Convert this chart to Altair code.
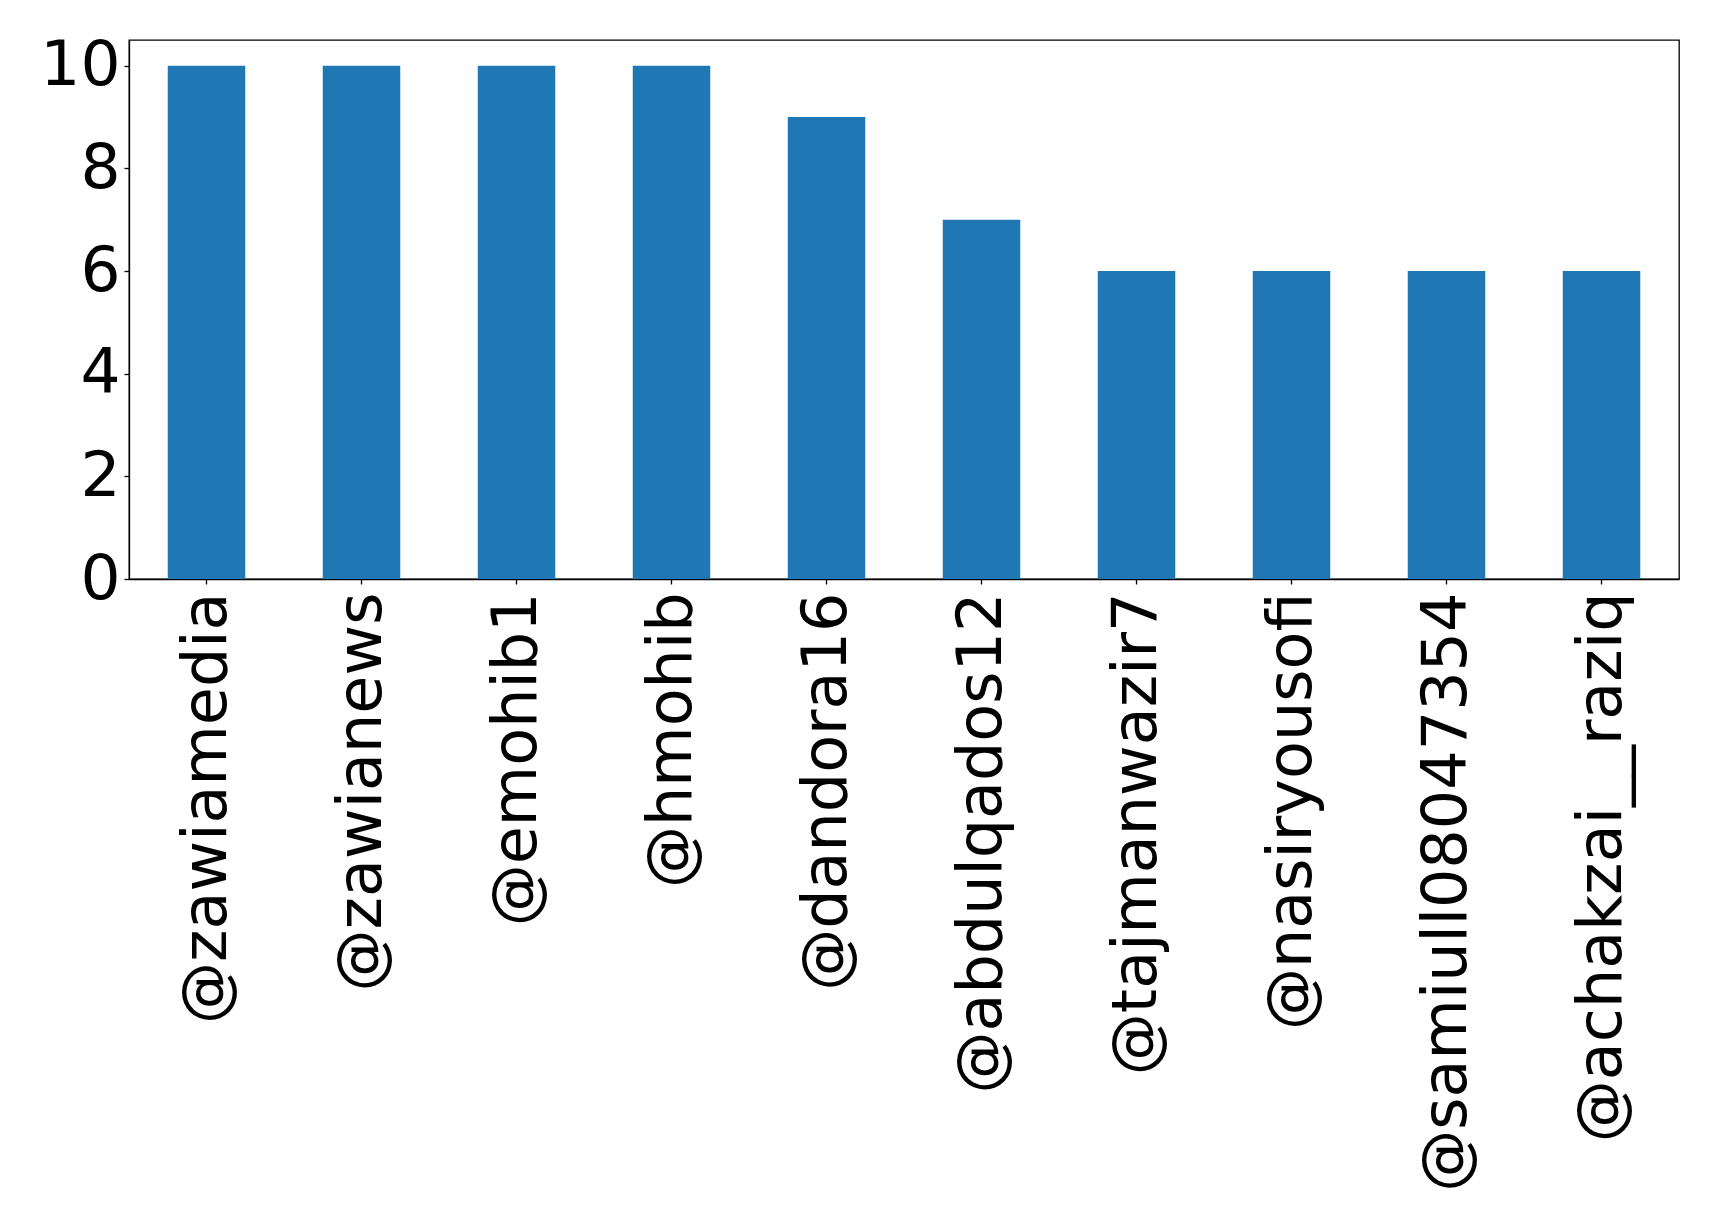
import altair as alt
import pandas as pd

users = ["@zawiamedia", "@zawianews", "@emohib1", "@hmohib", "@dandora16",
         "@abdulqados12", "@tajmanwazir7", "@nasiryousofi", "@samiull08047354",
         "@achakzai__raziq"]
counts = [10, 10, 10, 10, 9, 7, 6, 6, 6, 6]

df = pd.DataFrame({"user": users, "count": counts})

chart = alt.Chart(df).mark_bar(color="#1f77b4").encode(
    x=alt.X("user:N", sort=users, title=None,
            scale=alt.Scale(paddingInner=0.5, paddingOuter=0.25),
            axis=alt.Axis(labelAngle=-90, labelFontSize=62, labelFont="DejaVu Sans",
                          labelColor="black", tickColor="black", domainColor="black",
                          tickSize=5, labelPadding=8, labelLimit=0)),
    y=alt.Y("count:Q", title=None,
            scale=alt.Scale(domain=[0, 10.5], nice=False),
            axis=alt.Axis(values=[0, 2, 4, 6, 8, 10], labelFontSize=63,
                          labelFont="DejaVu Sans", labelColor="black",
                          tickColor="black", domainColor="black", tickSize=5,
                          labelPadding=4, grid=False)),
).properties(
    width=1550, height=539,
    autosize=alt.AutoSizeParams(type="none"),
    padding={"left": 121, "top": 32, "right": 30, "bottom": 640},
).configure_view(
    stroke="black", strokeWidth=1.3
).configure_axis(
    domainWidth=1.3, tickWidth=1.3
)

chart.save("out.html", embed_options={"renderer": "svg", "actions": False})
